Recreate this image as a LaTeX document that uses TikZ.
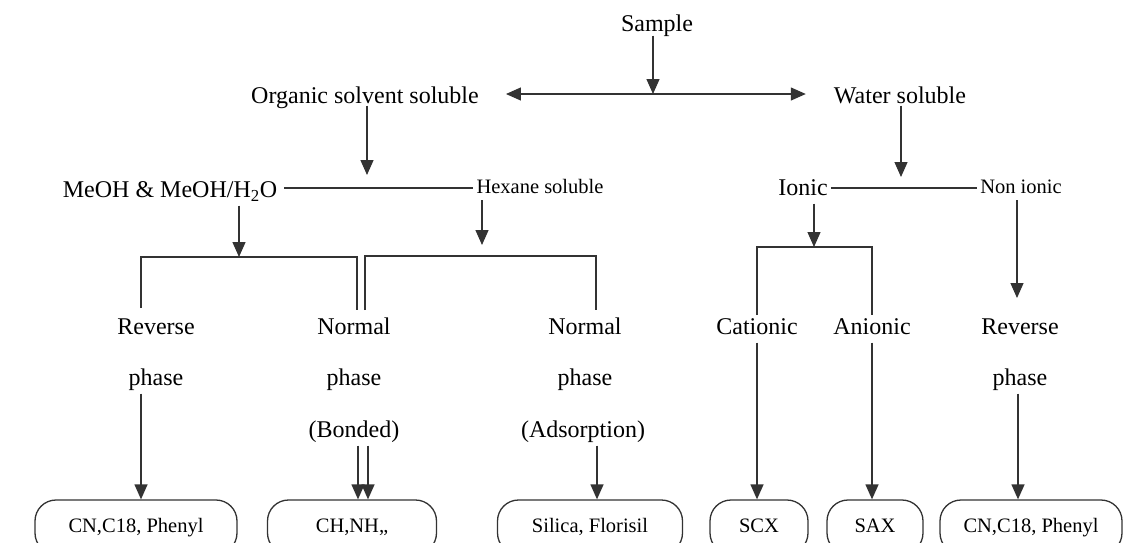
\documentclass[tikz,border=0pt]{standalone}
\usepackage{fontspec}
\setmainfont{Liberation Serif}
\usetikzlibrary{arrows.meta}

\definecolor{linec}{HTML}{333333}
\tikzset{
	big/.style={font=\fontsize{24}{28}\selectfont, inner sep=3pt, text height=16pt, text depth=5pt},
	small/.style={font=\fontsize{20.5}{24}\selectfont, inner sep=3pt, text height=14pt, text depth=4pt},
	colbox/.style={draw=linec, line width=1.3pt, rounded corners=21pt, minimum height=54pt, text height=14pt, text depth=4pt, font=\fontsize{20.5}{24}\selectfont},
	ln/.style={draw=linec, line width=1.3pt},
	arr/.style={ln, -{Triangle[length=15pt,width=13pt]}},
}

\begin{document}
\begin{tikzpicture}[x=1pt,y=-1pt]
\useasboundingbox (0,0) rectangle (1125,542);

\node[big] (sample) at (657,26) {Sample};
\node[big] (organic) at (365,98) {Organic solvent soluble};
\node[big] (water) at (900,98) {Water soluble};

\node[big] (meoh) at (170,192) {MeOH \& MeOH/H\textsubscript{2}O};
\node[small] (hexane) at (540,188) {Hexane soluble};
\node[big] (ionic) at (803,190) {Ionic};
\node[small] (nonionic) at (1021,188) {Non ionic};

% phases
\node[big] (rev1) at (156,329) {Reverse};
\node[big] (rev1p) at (156,380) {phase};
\node[big] (nor1) at (354,329) {Normal};
\node[big] (nor1p) at (354,380) {phase};
\node[big] (nor1b) at (354,432) {(Bonded)};
\node[big] (nor2) at (585,329) {Normal};
\node[big] (nor2p) at (585,380) {phase};
\node[big] (nor2b) at (583,432) {(Adsorption)};
\node[big] (cat) at (757,329) {Cationic};
\node[big] (ani) at (872,329) {Anionic};
\node[big] (rev2) at (1020,329) {Reverse};
\node[big] (rev2p) at (1020,380) {phase};

% sorbents
\node[colbox, minimum width=202pt] (b1) at (136,527) {CN,C18, Phenyl};
\node[colbox, minimum width=169pt] (b2) at (352,527) {CH,NH,,};
\node[colbox, minimum width=185pt] (b3) at (590,527) {Silica, Florisil};
\node[colbox, minimum width=98pt] (b4) at (759,527) {SCX};
\node[colbox, minimum width=96pt] (b5) at (875,527) {SAX};
\node[colbox, minimum width=182pt] (b6) at (1031,527) {CN,C18, Phenyl};

\coordinate (fork) at (653,94);
\coordinate (orgdown) at (367,175);
\coordinate (watdown) at (901,177);
\coordinate (meohdown) at (239,257);
\coordinate (hexdown) at (482,245);
\coordinate (iondown) at (814,247);
\coordinate (nondown) at (1017,298);

% brackets
\coordinate (lbA) at (141,308); \coordinate (lbB) at (357,310);
\coordinate (mbA) at (365,310); \coordinate (mbB) at (596,310);
\coordinate (rbA) at (757,315); \coordinate (rbB) at (872,315);
\draw [ln] (lbA) -- ++(0,-51) -| (lbB);
\draw [ln] (mbA) -- ++(0,-54) -| (mbB);
\draw [ln] (rbA) -- ++(0,-68) -| (rbB);

\draw [arr] ([yshift=4pt]sample.south -| fork) -- (fork);
\draw [ln, {Triangle[length=15pt,width=13pt]}-{Triangle[length=15pt,width=13pt]}, shorten <=24pt, shorten >=25pt] ([yshift=4pt]organic.east) -- ([yshift=4pt]water.west);
\draw [arr] ([yshift=6pt]orgdown |- organic.south) -- (orgdown);
\draw [arr] ([yshift=6pt]watdown |- water.south) -- (watdown);

\draw [ln] ([xshift=4pt]meoh.east |- hexane.west) -- (hexane.west);
\draw [ln] (ionic.east |- nonionic.west) -- (nonionic.west);
\draw [arr] (meohdown |- meoh.south) -- (meohdown);
\draw [arr] (hexdown |- hexane.south) -- (hexdown);
\draw [arr] (iondown |- ionic.south) -- (iondown);
\draw [arr] (nondown |- nonionic.south) -- (nondown);

\draw [arr] ([xshift=-15pt]rev1p.south) -- ([xshift=-15pt]rev1p.south |- b1.north);
\draw [arr] ([xshift=4pt]nor1b.south) -- ([xshift=4pt]nor1b.south |- b2.north);
\draw [arr] ([xshift=14pt]nor1b.south) -- ([xshift=14pt]nor1b.south |- b2.north);
\draw [arr] ([xshift=14pt]nor2b.south) -- ([xshift=14pt]nor2b.south |- b3.north);
\draw [arr] (cat.south) -- (cat.south |- b4.north);
\draw [arr] (ani.south) -- (ani.south |- b5.north);
\draw [arr] ([xshift=-2pt]rev2p.south) -- ([xshift=-2pt]rev2p.south |- b6.north);
\end{tikzpicture}
\end{document}
